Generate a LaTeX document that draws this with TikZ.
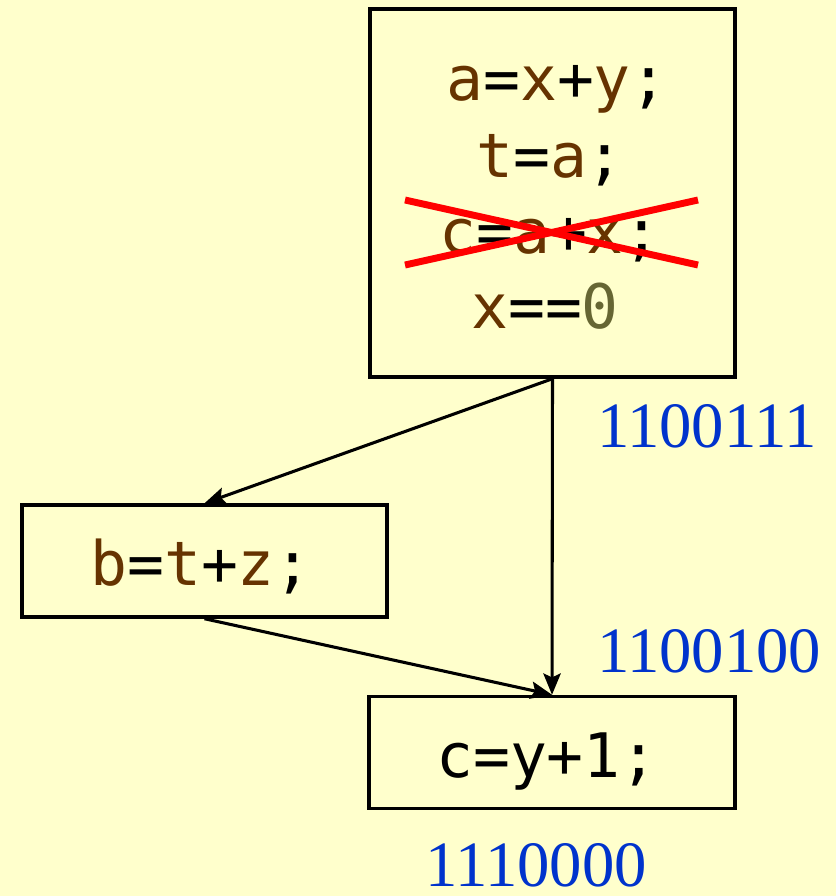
\documentclass[tikz,border=0pt]{standalone}
\usepackage{fontspec}
\newfontfamily\codefont{DejaVu Sans Mono}
\newfontfamily\numfont{Liberation Serif}
\usetikzlibrary{arrows.meta}
\definecolor{bg}{HTML}{FFFFCC}
\definecolor{var}{HTML}{663300}
\definecolor{lit}{HTML}{666633}
\definecolor{num}{HTML}{0033CC}
\definecolor{cross}{HTML}{FF0000}
\newcommand{\V}[1]{\textcolor{var}{#1}}
\tikzset{
  blockbox/.style={draw=black, line width=2.6pt, fill=bg, inner sep=0pt},
  codeline/.style={anchor=base, inner sep=0pt, font=\codefont\fontsize{46}{50}\selectfont},
  bitlabel/.style={anchor=base west, inner sep=0pt, text=num, font=\numfont\fontsize{48.5}{52}\selectfont},
  flow/.style={line width=2.3pt, -{Stealth[length=16pt,width=13pt,inset=3pt]}},
  strike/.style={draw=cross, line width=5.2pt}
}
\begin{document}
\begin{tikzpicture}[x=0.75pt,y=-0.75pt]
\useasboundingbox (0,0) rectangle (836,896);
\fill[bg] (0,0) rectangle (836,896);
% blocks
\node[blockbox, minimum width=273.75pt, minimum height=276pt] (top) at (552.5,193) {};
\node[blockbox, minimum width=273.75pt, minimum height=84pt] (bbox) at (204.5,561) {};
\node[blockbox, minimum width=274.5pt, minimum height=84pt] (cbox) at (552,752.5) {};
% code lines
\node[codeline] (l1) at (557,100) {\V{a}=\V{x}+\V{y};};
\node[codeline] (l2) at (550,177) {\V{t}=\V{a};};
\node[codeline] (l3) at (550,253) {\V{c}=\V{a}+\V{x};};
\node[codeline] (l4) at (545,328) {\V{x}==\textcolor{lit}{0}};
\node[codeline] (lb) at (201,585) {\V{b}=\V{t}+\V{z};};
\node[codeline] (lc) at (547,777) {c=y+1;};
% red cross
\coordinate (x1) at (405,200);
\coordinate (x2) at (698,265);
\coordinate (x3) at (405,265);
\coordinate (x4) at (698,200);
\draw[strike] (x1) -- (x2);
\draw[strike] (x3) -- (x4);
% connectors
\draw[flow] (top.south) -- (bbox.north);
\draw[flow] (top.south) -- (cbox.north);
\draw[flow] (bbox.south) -- (cbox.north);
% bit vectors
\node[bitlabel] (n1) at (597,447) {1100111};
\node[bitlabel] (n2) at (597,672) {1100100};
\node[bitlabel] (n3) at (425,886) {1110000};
\end{tikzpicture}
\end{document}
